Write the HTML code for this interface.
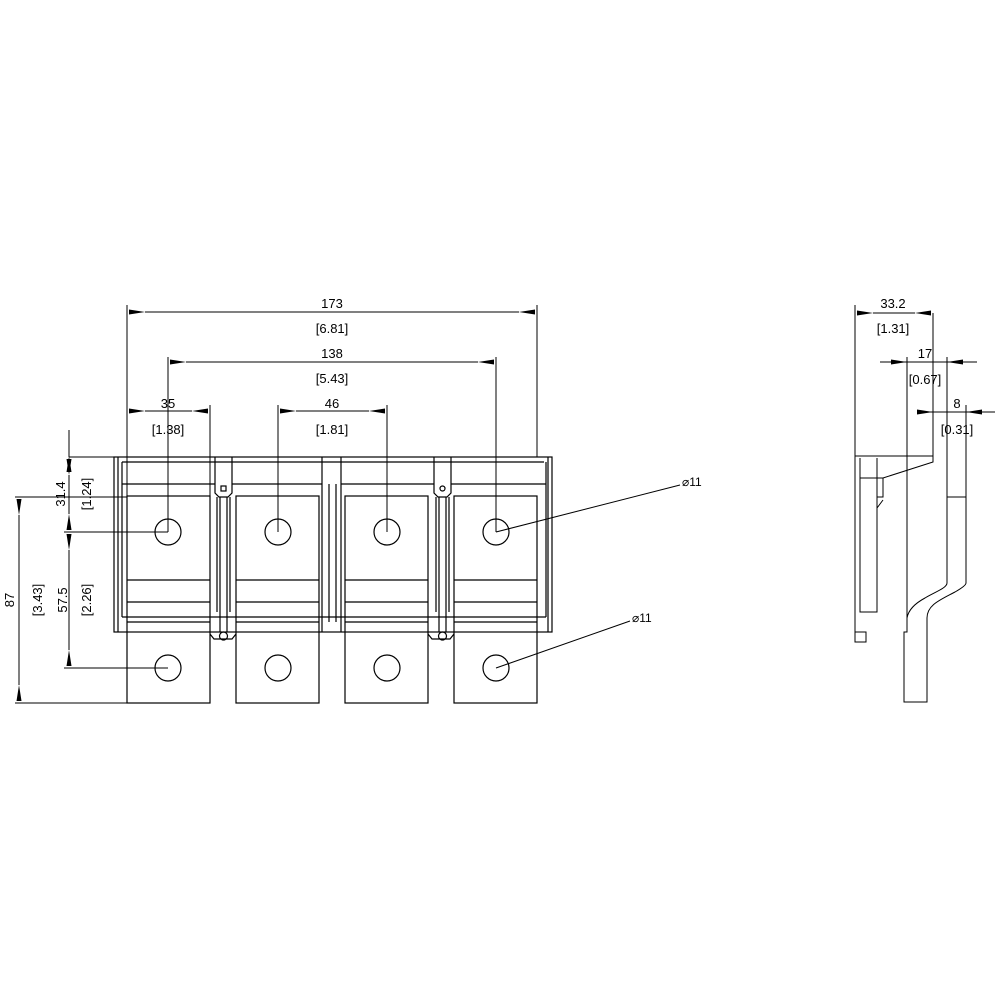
<!DOCTYPE html>
<html><head><meta charset="utf-8"><style>html,body{margin:0;padding:0;background:#fff}svg{display:block}text{font-family:"Liberation Sans",sans-serif;font-size:13px;fill:#000}</style></head>
<body>
<svg width="1000" height="1000" viewBox="0 0 1000 1000" xmlns="http://www.w3.org/2000/svg">
<defs>
<marker id="a" viewBox="0 0 16 6" refX="0" refY="3" markerWidth="16" markerHeight="6" markerUnits="userSpaceOnUse" orient="auto-start-reverse"><path d="M0,3 L16,0.5 L16,5.5 Z" fill="#000"/></marker>
</defs>
<g fill="none" stroke="#000" stroke-width="1.2">
<rect x="114" y="457" width="438" height="175"/>
<line x1="122" y1="462" x2="544" y2="462"/>
<path d="M118,457 V632 M122,462 V484 M546,462 V484 M548,457 V632"/>
<path d="M122,484 H215 M232,484 H322 M341,484 H434 M451,484 H546"/>
<path d="M122,484 V617 M546,484 V617"/>
<path d="M122,617 H546"/>
<path d="M322,457 V632 M341,457 V632 M329,484 V622 M336,484 V622"/>
<rect x="127" y="496" width="83" height="207"/>
<rect x="236" y="496" width="83" height="207"/>
<rect x="345" y="496" width="83" height="207"/>
<rect x="454" y="496" width="83" height="207"/>
<path d="M127,580 H210 M236,580 H319 M345,580 H428 M454,580 H537"/>
<path d="M127,602 H210 M236,602 H319 M345,602 H428 M454,602 H537"/>
<path d="M127,622 H210 M236,622 H319 M345,622 H428 M454,622 H537"/>
<g>
<path d="M215,457 V493 L219,497 H228 L232,493 V457"/>
<rect x="221" y="486" width="5" height="5"/>
<path d="M220,497 V632 M227,497 V632 M217,497 V612 M230,497 V612"/>
<circle cx="223.5" cy="636" r="4"/>
<path d="M210,634 L214,639 H232 L236,634"/>
</g>
<g>
<path d="M434,457 V493 L438,497 H447 L451,493 V457"/>
<circle cx="442.5" cy="488.5" r="2.5"/>
<path d="M439,497 V632 M446,497 V632 M436,497 V612 M449,497 V612"/>
<circle cx="442.5" cy="636" r="4"/>
<path d="M428,634 L432,639 H450 L454,634"/>
</g>
<circle cx="168" cy="532" r="13"/><circle cx="278" cy="532" r="13"/><circle cx="387" cy="532" r="13"/><circle cx="496" cy="532" r="13"/>
<circle cx="168" cy="668" r="13"/><circle cx="278" cy="668" r="13"/><circle cx="387" cy="668" r="13"/><circle cx="496" cy="668" r="13"/>
</g>
<g fill="none" stroke="#000" stroke-width="1">
<path d="M127,305 V496 M537,305 V457 M168,357 V532 M496,357 V532 M210,405 V496 M278,405 V532 M387,405 V532"/>
<line x1="145" y1="312" x2="519" y2="312" marker-start="url(#a)" marker-end="url(#a)"/>
<line x1="186" y1="362" x2="478" y2="362" marker-start="url(#a)" marker-end="url(#a)"/>
<line x1="145" y1="411" x2="192" y2="411" marker-start="url(#a)" marker-end="url(#a)"/>
<line x1="296" y1="411" x2="369" y2="411" marker-start="url(#a)" marker-end="url(#a)"/>
<path d="M69,457 H114 M64,532 H168 M64,668 H168 M15,497 H127 M15,703 H127"/>
<line x1="69" y1="430" x2="69" y2="457"/>
<line x1="69" y1="441" x2="69" y2="456" marker-end="url(#a)"/>
<line x1="69" y1="475" x2="69" y2="514" marker-start="url(#a)" marker-end="url(#a)"/>
<line x1="69" y1="550" x2="69" y2="650" marker-start="url(#a)" marker-end="url(#a)"/>
<line x1="19" y1="515" x2="19" y2="685" marker-start="url(#a)" marker-end="url(#a)"/>
<path d="M496,532 L680,485 M496,668 L630,621"/>
<!-- side view -->
<path d="M855,305 V642 M855,456 H933 M933,313 V462 L883,478 M860,458 V612 H877 V458 M860,478 H883"/>
<rect x="855" y="632" width="11" height="10"/>
<path d="M877,478 V497 H883 V478 M877,497 V508 L883,500"/>
<path d="M907,357 V632 H904 V702 H927 V618 C927,605 940,600 955,592 C962,588 966,585 966,583 V405"/>
<path d="M947,357 V583 C947,588 935,592 925,598 C912,605 908,612 907,618"/>
<path d="M947,497 H966"/>
<line x1="873" y1="313" x2="915" y2="313" marker-start="url(#a)" marker-end="url(#a)"/>
<line x1="880" y1="362" x2="977" y2="362"/>
<line x1="920" y1="412" x2="995" y2="412"/>
</g>
<g fill="#000">
<path d="M907,362 L891,359.5 L891,364.5 Z"/>
<path d="M947,362 L963,359.5 L963,364.5 Z"/>
<path d="M933,412 L917,409.5 L917,414.5 Z"/>
<path d="M966,412 L982,409.5 L982,414.5 Z"/>
</g>
<g text-anchor="middle">
<text x="332" y="308">173</text><text x="332" y="333">[6.81]</text>
<text x="332" y="358">138</text><text x="332" y="383">[5.43]</text>
<text x="168" y="408">35</text><text x="168" y="434">[1.38]</text>
<text x="332" y="408">46</text><text x="332" y="434">[1.81]</text>
<text x="893" y="308">33.2</text><text x="893" y="333">[1.31]</text>
<text x="925" y="358">17</text><text x="925" y="384">[0.67]</text>
<text x="957" y="408">8</text><text x="957" y="434">[0.31]</text>
<text transform="translate(65,494) rotate(-90)">31.4</text>
<text transform="translate(91,494) rotate(-90)">[1.24]</text>
<text transform="translate(14,600) rotate(-90)">87</text>
<text transform="translate(42,600) rotate(-90)">[3.43]</text>
<text transform="translate(67,600) rotate(-90)">57.5</text>
<text transform="translate(91,600) rotate(-90)">[2.26]</text>
</g>
<text x="682" y="486" style="font-size:12px">⌀11</text>
<text x="632" y="622" style="font-size:12px">⌀11</text>
</svg>
</body></html>
